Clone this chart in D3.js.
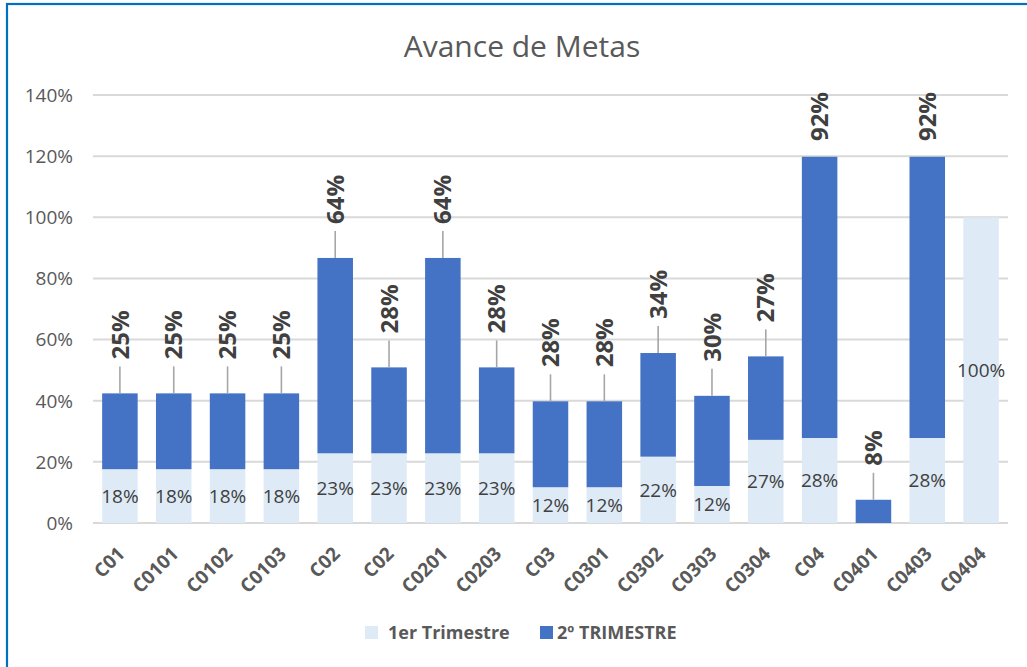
<!DOCTYPE html>
<html>
<head>
<meta charset="utf-8">
<script src="https://cdn.jsdelivr.net/npm/d3@7"></script>
<style>
  html, body { margin: 0; padding: 0; background: #fff; }
  svg { display: block; font-family: 'Open Sans', 'Noto Sans', sans-serif; }
</style>
</head>
<body>
<div id="chart"></div>
<script>
const categories = ['C01', 'C0101', 'C0102', 'C0103', 'C02', 'C02', 'C0201', 'C0203', 'C03', 'C0301',
  'C0302', 'C0303', 'C0304', 'C04', 'C0401', 'C0403', 'C0404'];
// 1er Trimestre (%)
const trim1 = [17.6, 17.6, 17.6, 17.6, 22.8, 22.8, 22.8, 22.8, 11.7, 11.7, 21.7, 12.1, 27.2, 27.8, 0, 27.8, 100];
// 2º TRIMESTRE (%)
const trim2 = [24.8, 24.8, 24.8, 24.8, 63.9, 28.1, 63.9, 28.1, 28.1, 28.1, 33.9, 29.5, 27.3, 92, 7.6, 92, 0];
const yTicks = [0, 20, 40, 60, 80, 100, 120, 140];
const seriesNames = ['1er Trimestre', '2º TRIMESTRE'];
const seriesColors = ['#DEEBF7', '#4472C4'];

const width = 1027, height = 667;
const margin = { top: 95, right: 19, bottom: 144, left: 93 };
const innerW = width - margin.left - margin.right;
const innerH = height - margin.top - margin.bottom;

const svg = d3.select('#chart').append('svg')
  .attr('width', width)
  .attr('height', height);

// marco azul
svg.append('rect')
  .attr('x', 7).attr('y', 4)
  .attr('width', width + 10).attr('height', height + 10)
  .attr('fill', 'none')
  .attr('stroke', '#0070C0')
  .attr('stroke-width', 2.2);

svg.append('text')
  .attr('x', 522).attr('y', 57)
  .attr('text-anchor', 'middle')
  .style('font-size', '30px')
  .style('fill', '#595959')
  .text('Avance de Metas');

const g = svg.append('g').attr('transform', `translate(${margin.left},${margin.top})`);

const x = d3.scaleBand().domain(d3.range(categories.length)).range([0, innerW])
  .paddingInner(0.34).paddingOuter(0.17);
const y = d3.scaleLinear().domain([0, 140]).range([innerH, 0]);

// rejilla
g.selectAll('.grid').data(yTicks).enter().append('line')
  .attr('x1', 0).attr('x2', innerW)
  .attr('y1', d => y(d)).attr('y2', d => y(d))
  .attr('stroke', '#D9D9D9').attr('stroke-width', 2);

g.selectAll('.ylab').data(yTicks).enter().append('text')
  .attr('x', -20).attr('y', d => y(d)).attr('dy', '0.36em')
  .attr('text-anchor', 'end')
  .style('font-size', '19px').style('fill', '#595959')
  .text(d => d + '%');

const stackData = categories.map((c, i) => ({ i, a: trim1[i], b: trim2[i] }));
const stacked = d3.stack().keys(['a', 'b'])(stackData);

g.selectAll('.serie').data(stacked).enter().append('g')
  .attr('fill', (d, k) => seriesColors[k])
  .selectAll('rect').data(d => d).enter().append('rect')
  .attr('x', d => x(d.data.i))
  .attr('width', x.bandwidth())
  .attr('y', d => y(d[1]))
  .attr('height', d => y(d[0]) - y(d[1]));

// etiquetas 1er Trimestre
g.selectAll('.lab1').data(stacked[0].filter(d => d.data.a > 0)).enter().append('text')
  .attr('x', d => x(d.data.i) + x.bandwidth() / 2)
  .attr('y', d => y((d[0] + d[1]) / 2)).attr('dy', '0.36em')
  .attr('text-anchor', 'middle')
  .style('font-size', '19px').style('fill', '#404040')
  .text(d => Math.round(d.data.a) + '%');

// etiquetas 2º TRIMESTRE, giradas, con líneas guía
const lab2 = g.selectAll('.lab2').data(stacked[1].filter(d => d.data.b > 0)).enter().append('g');
lab2.each(function(d) {
  const sel = d3.select(this);
  const cx = x(d.data.i) + x.bandwidth() / 2;
  const top = y(d[1]);
  const t = sel.append('text')
    .attr('text-anchor', 'start')
    .attr('dy', '0.36em')
    .style('font-size', '24px').style('font-weight', 700).style('fill', '#404040')
    .text(Math.round(d.data.b) + '%');
  const len = t.node().getComputedTextLength();
  let bottom = top - 34;
  if (bottom - len < -3) bottom = -3 + len;
  t.attr('transform', `translate(${cx},${bottom}) rotate(-90)`);
  if (top - bottom > 20) {
    sel.insert('line', 'text')
      .attr('x1', cx).attr('x2', cx)
      .attr('y1', top).attr('y2', bottom + 7)
      .attr('stroke', '#A6A6A6').attr('stroke-width', 1.6);
  }
});

// etiquetas eje x
g.selectAll('.xlab').data(categories).enter().append('text')
  .attr('transform', (d, i) => `translate(${x(i) + x.bandwidth() / 2 + 6},${innerH + 32}) rotate(-45)`)
  .attr('text-anchor', 'end')
  .style('font-size', '19px').style('font-weight', 700).style('fill', '#595959')
  .text(d => d);

// leyenda
const legend = svg.append('g');
const legX = [365, 540];
seriesNames.forEach((name, k) => {
  legend.append('rect')
    .attr('x', legX[k]).attr('y', 626).attr('width', 13).attr('height', 13)
    .attr('fill', seriesColors[k]);
  legend.append('text')
    .attr('x', legX[k] + (k === 0 ? 23 : 17)).attr('y', 633).attr('dy', '0.36em')
    .style('font-size', '18px').style('font-weight', 700).style('fill', '#595959')
    .text(name);
});
</script>
</body>
</html>
